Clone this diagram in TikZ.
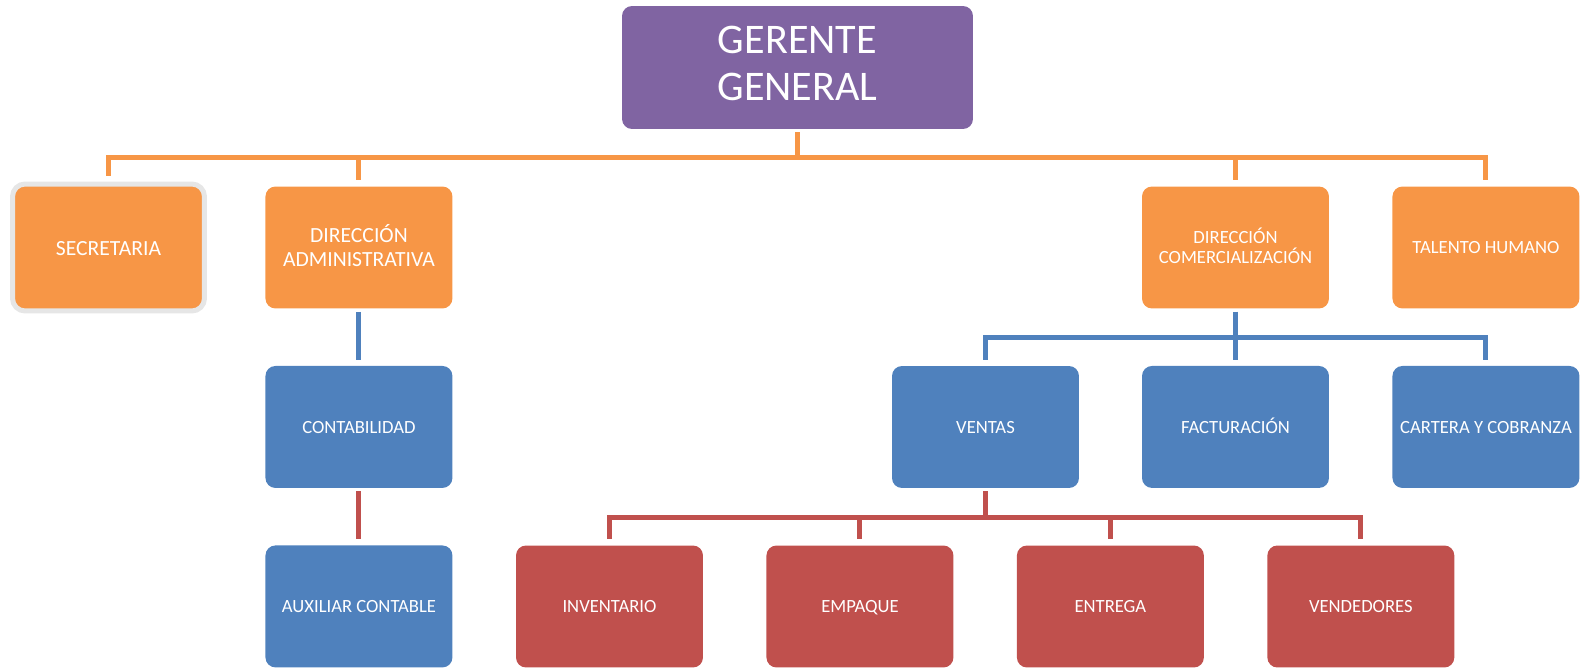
\documentclass[tikz,border=0pt]{standalone}
\usepackage{fontspec}
\setmainfont{Carlito}
\usepackage{tikz}
\usetikzlibrary{positioning, calc}

\definecolor{naranja}{HTML}{F79646}
\definecolor{azul}{HTML}{4F81BD}
\definecolor{rojo}{HTML}{C0504D}
\definecolor{morado}{HTML}{8064A2}
\definecolor{gris}{HTML}{E6E6E6}

\newcommand{\puntal}[1][0.18]{\rule[-#1\baselineskip]{0pt}{\baselineskip}}
\newcommand{\puntalg}{\puntal[0.08]}

\tikzset{
    caja/.style={rectangle, rounded corners=0.2cm, minimum width=3.74cm, minimum height=2.44cm,
        inner sep=0pt, align=center, text=white, font=\fontsize{10.6}{11.5}\selectfont,
        execute at begin node=\puntal, execute at end node=\puntal},
    cnaranja/.style={caja, fill=naranja},
    cazul/.style={caja, fill=azul},
    crojo/.style={caja, fill=rojo},
    grande/.style={font=\fontsize{12.3}{13.8}\selectfont},
    linea/.style={line width=0.1cm, shorten <=0.06cm, shorten >=0.12cm},
}

\begin{document}
\begin{tikzpicture}[x=0.02cm, y=-0.02cm, node distance=5.01cm]
    \useasboundingbox (0,0) rectangle (1582,668);

    \node[caja, fill=morado, minimum width=7.02cm, minimum height=2.46cm,
        font=\fontsize{24}{26.5}\selectfont, execute at begin node=\puntalg,
        execute at end node=\puntalg] (gg) at (797.5,67.5) {GERENTE\\GENERAL};

    \node[cnaranja, grande, draw=gris, line width=0.1cm, rounded corners=0.25cm,
        minimum width=3.84cm, minimum height=2.54cm] (sec) at (108.5,247.5) {SECRETARIA};
    \node[cnaranja, grande, right of=sec] (dadm) {DIRECCIÓN\\ADMINISTRATIVA};
    \node[cnaranja] (dcom) at (1235.5,247.5) {DIRECCIÓN\\COMERCIALIZACIÓN};
    \node[cnaranja, right of=dcom] (th) {TALENTO HUMANO};

    \node[cazul, node distance=3.59cm, below of=dadm] (cont) {CONTABILIDAD};
    \node[cazul] (ven) at (985.5,427) {VENTAS};
    \node[cazul, node distance=3.59cm, below of=dcom] (fact) {FACTURACIÓN};
    \node[cazul, node distance=3.59cm, below of=th] (cart) {CARTERA Y COBRANZA};

    \node[cazul, node distance=3.59cm, below of=cont] (aux) {AUXILIAR CONTABLE};
    \node[crojo] (inv) at (609.5,606.5) {INVENTARIO};
    \node[crojo, right of=inv] (emp) {EMPAQUE};
    \node[crojo, right of=emp] (ent) {ENTREGA};
    \node[crojo, right of=ent] (vend) {VENDEDORES};

    % gerente
    \draw[linea, naranja] (gg.south) -- ++(0,28) -| (sec.north);
    \draw[linea, naranja] (gg.south) -- ++(0,28) -| (dadm.north);
    \draw[linea, naranja] (gg.south) -- ++(0,28) -| (dcom.north);
    \draw[linea, naranja] (gg.south) -- ++(0,28) -| (th.north);

    % administrativa
    \draw[linea, azul] (dadm.south) -- (cont.north);
    \draw[linea, rojo] (cont.south) -- (aux.north);

    % comercializacion
    \draw[linea, azul] (dcom.south) -- ++(0,29) -| (ven.north);
    \draw[linea, azul] (dcom.south) -- ++(0,29) -| (fact.north);
    \draw[linea, azul] (dcom.south) -- ++(0,29) -| (cart.north);

    % ventas
    \draw[linea, rojo] (ven.south) -- ++(0,29) -| (inv.north);
    \draw[linea, rojo] (ven.south) -- ++(0,29) -| (emp.north);
    \draw[linea, rojo] (ven.south) -- ++(0,29) -| (ent.north);
    \draw[linea, rojo] (ven.south) -- ++(0,29) -| (vend.north);
\end{tikzpicture}
\end{document}
